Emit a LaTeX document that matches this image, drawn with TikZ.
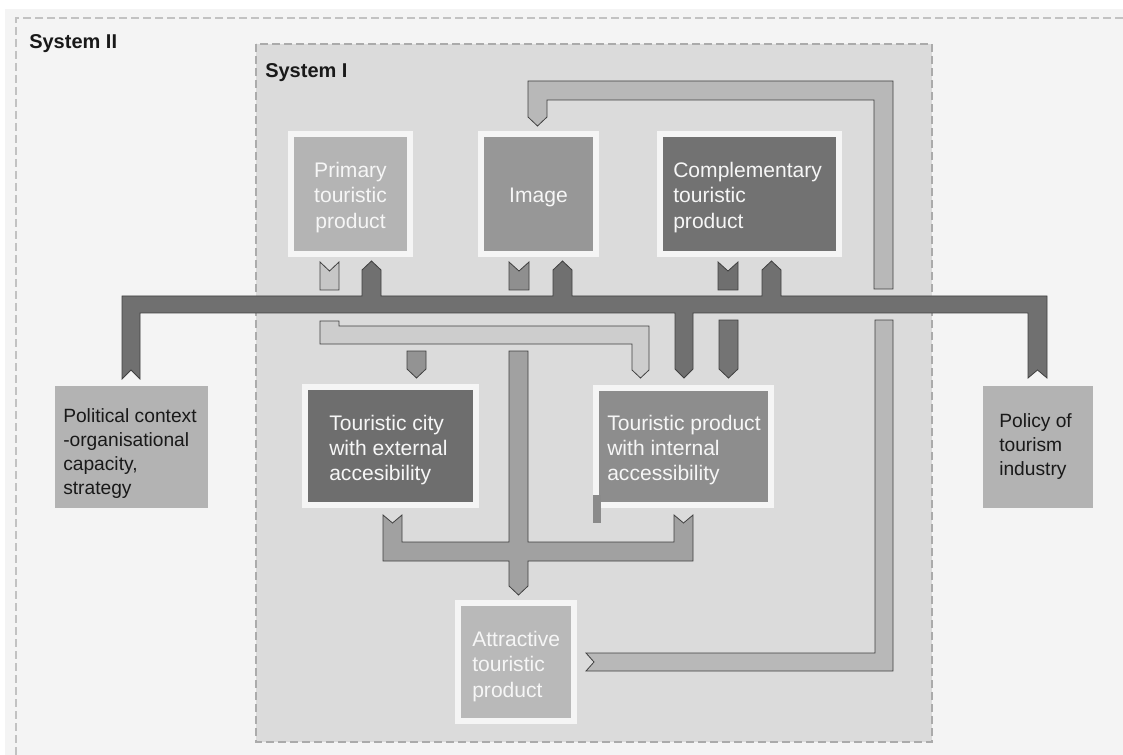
\documentclass[tikz,border=0pt]{standalone}
\usepackage{fontspec}
\setmainfont{Liberation Sans}
\definecolor{paper}{HTML}{F4F4F4}
\definecolor{sysone}{HTML}{DBDBDB}
\definecolor{sysrimII}{HTML}{C2C2C2}
\definecolor{sysrimI}{HTML}{ABABAB}
\definecolor{framew}{HTML}{F5F5F5}
\definecolor{rim}{HTML}{404040}
\definecolor{fPrim}{HTML}{B4B4B4}
\definecolor{fImg}{HTML}{979797}
\definecolor{fComp}{HTML}{727272}
\definecolor{fCity}{HTML}{6E6E6E}
\definecolor{fProd}{HTML}{8D8D8D}
\definecolor{fAttr}{HTML}{B9B9B9}
\definecolor{fOut}{HTML}{B3B3B3}
\definecolor{barMain}{HTML}{707070}
\definecolor{barLoop}{HTML}{B8B8B8}
\definecolor{barPrim}{HTML}{CDCDCD}
\definecolor{stubPrim}{HTML}{C6C6C6}
\definecolor{stubImg}{HTML}{8F8F8F}
\definecolor{barImg}{HTML}{A1A1A1}
\definecolor{arrCity}{HTML}{939393}
\definecolor{stubComp}{HTML}{6F6F6F}
\definecolor{barComp}{HTML}{747474}
\definecolor{tabProd}{HTML}{8A8A8A}
\definecolor{boxtext}{HTML}{F6F6F6}
\begin{document}
\begin{tikzpicture}[x=0.75pt,y=-0.75pt,
  flow/.style={draw=rim, line width=0.6pt, line join=miter},
  framed/.style={draw=framew, line width=4.5pt, inner sep=0pt},
  outerbox/.style={draw=none, inner sep=0pt, minimum height=91.5pt},
  wtext/.style={text=boxtext, inner sep=0pt, align=left, font=\fontsize{15.8}{19}\selectfont},
  btext/.style={text=black!90, inner sep=0pt, align=left, font=\fontsize{14.4}{18}\selectfont},
  syslabel/.style={inner sep=0pt, anchor=base west, text=black!90, font=\bfseries\fontsize{15}{18}\selectfont},
  sysdash/.style={line width=1.1pt, dash pattern=on 6pt off 3pt}]

\useasboundingbox (0,0) rectangle (1123,755);
\fill[white] (0,0) rectangle (1123,755);
\fill[paper] (5,9) rectangle (1123,755);

% System II (open to the right and bottom) and System I
\draw[sysdash, draw=sysrimII] (1123,18) -- (16,18) -- (16,755);
\filldraw[sysdash, fill=sysone, draw=sysrimI] (256,44) rectangle (932,742);
\node[syslabel] (sys2) at (29,49) {System II};
\node[syslabel] (sys1) at (265,78) {System I};

% the boxes
\node[framed, fill=fPrim, minimum width=88.9pt, minimum height=90pt] (prim) at (350.25,194) {};
\node[framed, fill=fImg, minimum width=86.25pt, minimum height=90pt] (img) at (538.5,194) {};
\node[framed, fill=fComp, minimum width=134.25pt, minimum height=90pt] (comp) at (749.5,194) {};
\node[framed, fill=fCity, minimum width=128.25pt, minimum height=88.5pt] (city) at (390.5,446) {};
\node[framed, fill=fProd, minimum width=131.25pt, minimum height=87.75pt] (prod) at (683.5,446.5) {};
\node[framed, fill=fAttr, minimum width=87pt, minimum height=88.5pt] (attr) at (516,662) {};
\node[outerbox, fill=fOut, minimum width=114.75pt] (pol) at (131.5,447) {};
\node[outerbox, fill=fOut, minimum width=82.5pt] (pty) at (1038,447) {};

% texts
\node[wtext, align=center, anchor=north] (prim-t) at (350.5,162) {Primary\\touristic\\product};
\node[wtext, anchor=base] (img-t) at (538.5,202.5) {Image};
\node[wtext, anchor=north west] (comp-t) at (673,162) {Complementary\\touristic\\product};
\node[wtext, anchor=north west] (city-t) at (329,414.5) {Touristic city\\with external\\accesibility};
\node[wtext, anchor=north west] (prod-t) at (607,414.5) {Touristic product\\with internal\\accessibility};
\node[wtext, anchor=north west] (attr-t) at (472,631) {Attractive\\touristic\\product};
\node[btext, anchor=north west] (pol-t) at (63,408) {Political context\\-organisational\\capacity,\\strategy};
\node[btext, anchor=north west] (pty-t) at (999,413.5) {Policy of\\tourism\\industry};

% distribution bar from the two outer boxes into System I
\filldraw[flow, fill=barMain]
  (122,379) -- (122,296) -- (362,296) -- (362,270) -- (371.5,261) -- (381,270) -- (381,296)
  -- (553,296) -- (553,270) -- (562.5,261) -- (572,270) -- (572,296)
  -- (762,296) -- (762,270) -- (771.5,261) -- (781,270) -- (781,296)
  -- (1047,296) -- (1047,378) -- (1037.5,370) -- (1028,378) -- (1028,313)
  -- (693,313) -- (693,369) -- (684,378) -- (675,369) -- (675,313)
  -- (140,313) -- (140,379) -- (131,370) -- cycle;

% tails under the three upper boxes
\filldraw[flow, fill=stubPrim] (320,262) -- (329.5,271) -- (339,262) -- (339,290) -- (320,290) -- cycle;
\filldraw[flow, fill=stubImg] (509,262) -- (519,271) -- (529,262) -- (529,290) -- (509,290) -- cycle;
\filldraw[flow, fill=stubComp] (718,262) -- (728,271) -- (738,262) -- (738,290) -- (718,290) -- cycle;

% primary product towards the internal accessibility box
\filldraw[flow, fill=barPrim]
  (320,321) -- (339,321) -- (339,326) -- (649,326) -- (649,370) -- (640.5,378)
  -- (632,370) -- (632,344) -- (320,344) -- cycle;
\filldraw[flow, fill=arrCity] (407,351) -- (426,351) -- (426,369) -- (416.5,378) -- (407,369) -- cycle;

% complementary product towards the internal accessibility box
\filldraw[flow, fill=barComp] (719,320) -- (738,320) -- (738,369) -- (728.5,378) -- (719,369) -- cycle;

% image and both accessibility boxes merging into the attractive product
\filldraw[flow, fill=barImg]
  (509,351) -- (528,351) -- (528,542) -- (674,542) -- (674,515) -- (683.5,523) -- (693,515)
  -- (693,561) -- (528,561) -- (528,586) -- (518.5,595) -- (509,586) -- (509,561)
  -- (383,561) -- (383,515) -- (392.5,523) -- (402,515) -- (402,542) -- (509,542) -- cycle;

% feedback loop from the attractive product back to the image
\filldraw[flow, fill=barLoop]
  (586,653) -- (875,653) -- (875,320) -- (893,320) -- (893,671) -- (586,671) -- (594,662) -- cycle;
\filldraw[flow, fill=barLoop]
  (528,81) -- (893,81) -- (893,289) -- (874,289) -- (874,100) -- (547,100) -- (547,117)
  -- (537.5,126) -- (528,117) -- cycle;

% small tab on the internal accessibility box
\fill[tabProd] (593,495) rectangle (601,523);
\end{tikzpicture}
\end{document}
